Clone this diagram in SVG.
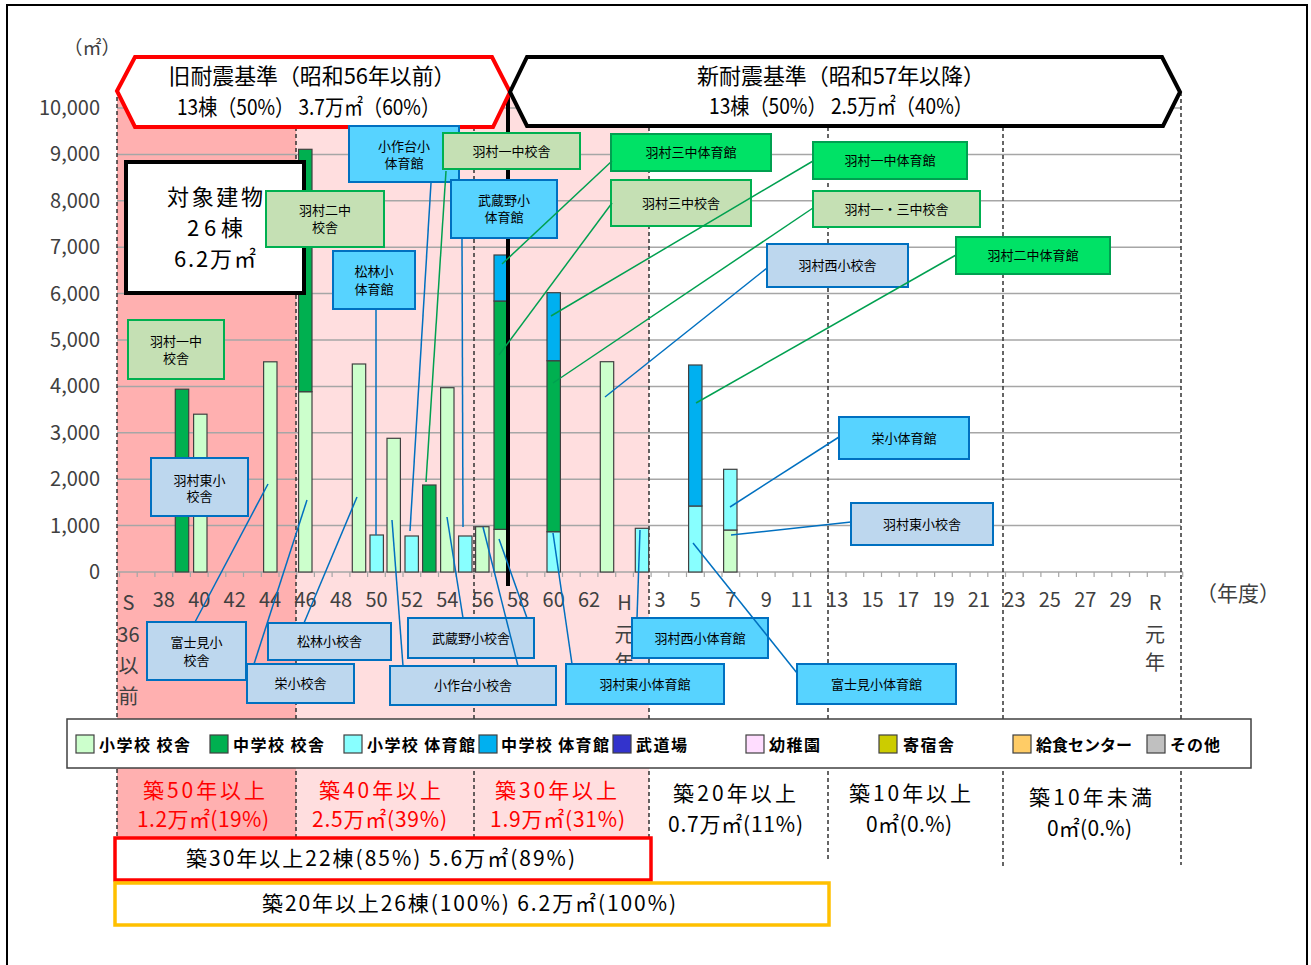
<svg xmlns="http://www.w3.org/2000/svg" width="1311" height="965" viewBox="0 0 1311 965">
<style>
text { font-family: "Noto Sans CJK JP", "Noto Sans", sans-serif; }
.ax { font-size: 20px; fill: #404040; }
.yl { text-anchor: end; }
.xl { text-anchor: middle; }
.grid { stroke: #A6A6A6; stroke-width: 1.5; }
.dash { stroke: #333; stroke-width: 1.5; stroke-dasharray: 4 3; fill: none; }
.bar { stroke: #404040; stroke-width: 1.2; }
.es { fill: #CCFFCC; } .js { fill: #00B050; } .eg { fill: #88FFFF; } .jg { fill: #00B0F0; }
.cb-lg { fill: #C5E0B4; stroke: #00B050; stroke-width: 2; }
.cb-bg { fill: #00E266; stroke: #00A050; stroke-width: 2; }
.cb-lb { fill: #BDD7EE; stroke: #0070C0; stroke-width: 2; }
.cb-cy { fill: #57D3FF; stroke: #0070C0; stroke-width: 2; }
.ct { font-size: 13px; fill: #000; text-anchor: middle; }
.lg { stroke: #00A050; stroke-width: 1.5; }
.lb { stroke: #0070C0; stroke-width: 1.5; }
.hd { font-size: 22px; fill: #000; text-anchor: middle; }
.rb { font-size: 21px; fill: #FF0000; text-anchor: middle; }
.kb { font-size: 21px; fill: #000; text-anchor: middle; }
.lt { font-size: 16px; font-weight: bold; fill: #000; }
.sw { stroke: #404040; stroke-width: 1.2; }
.tg { font-size: 22px; fill: #000; text-anchor: middle; }
</style>
<rect x="0" y="0" width="1311" height="965" fill="#fff"/>
<rect x="7" y="5" width="1300" height="975" fill="#fff" stroke="#000" stroke-width="2"/>

<g id="bands">
<rect x="117" y="97" width="179" height="741" fill="#FFB0B0"/>
<rect x="296" y="97" width="353" height="741" fill="#FFDEDF"/>
</g>

<g id="grid">
<path class="grid" d="M117 525.6H1181M117 479.2H1181M117 432.8H1181M117 386.4H1181M117 340H1181M117 293.6H1181M117 247.2H1181M117 200.8H1181M117 154.4H1181M117 108H1181"/>
<path class="grid" d="M117 572H1183"/>
<path stroke="#A6A6A6" stroke-width="1.2" d="M119.5 572v5M137.2 572v5M154.9 572v5M172.7 572v5M190.4 572v5M208.1 572v5M225.8 572v5M243.5 572v5M261.3 572v5M279 572v5M296.7 572v5M314.4 572v5M332.1 572v5M349.9 572v5M367.6 572v5M385.3 572v5M403 572v5M420.7 572v5M438.5 572v5M456.2 572v5M473.9 572v5M491.6 572v5M509.3 572v5M527.1 572v5M544.8 572v5M562.5 572v5M580.2 572v5M597.9 572v5M615.7 572v5M633.4 572v5M651.1 572v5M668.8 572v5M686.5 572v5M704.3 572v5M722 572v5M739.7 572v5M757.4 572v5M775.1 572v5M792.9 572v5M810.6 572v5M828.3 572v5M846 572v5M863.7 572v5M881.5 572v5M899.2 572v5M916.9 572v5M934.6 572v5M952.3 572v5M970.1 572v5M987.8 572v5M1005.5 572v5M1023.2 572v5M1040.9 572v5M1058.7 572v5M1076.4 572v5M1094.1 572v5M1111.8 572v5M1129.5 572v5M1147.3 572v5M1165 572v5M1182.7 572v5"/>
<path class="dash" d="M117 97V838M296 127V838M474 127V838M649 127V838M828 127V862M1003 127V868M1181 92V865"/>
</g>

<g id="bars">
<rect class="bar js" x="175.3" y="389.2" width="13.4" height="182.8"/>
<rect class="bar es" x="193.6" y="414.2" width="13.4" height="157.8"/>
<rect class="bar es" x="263.6" y="361.8" width="13.4" height="210.2"/>
<rect class="bar es" x="298.6" y="391.7" width="13.4" height="180.3"/>
<rect class="bar js" x="298.6" y="149.3" width="13.4" height="242.4"/>
<rect class="bar es" x="352.3" y="364" width="13.4" height="208"/>
<rect class="bar eg" x="370" y="535" width="13.4" height="37"/>
<rect class="bar es" x="387" y="438.3" width="13.4" height="133.7"/>
<rect class="bar eg" x="405" y="536" width="13.4" height="36"/>
<rect class="bar js" x="422.6" y="485" width="13.4" height="87"/>
<rect class="bar es" x="440.6" y="387.7" width="13.4" height="184.3"/>
<rect class="bar eg" x="458.6" y="536" width="13.4" height="36"/>
<rect class="bar es" x="475.6" y="526.7" width="13.4" height="45.3"/>
<rect class="bar es" x="494" y="529.3" width="13.4" height="42.7"/>
<rect class="bar js" x="494" y="301" width="13.4" height="228.3"/>
<rect class="bar jg" x="494" y="255" width="13.4" height="46"/>
<rect class="bar eg" x="547" y="531.7" width="13.4" height="40.3"/>
<rect class="bar js" x="547" y="360.7" width="13.4" height="171"/>
<rect class="bar jg" x="547" y="292.7" width="13.4" height="68"/>
<rect class="bar es" x="600.3" y="361.7" width="13.4" height="210.3"/>
<rect class="bar eg" x="635.3" y="528.3" width="13.4" height="43.7"/>
<rect class="bar eg" x="688.6" y="506" width="13.4" height="66"/>
<rect class="bar jg" x="688.6" y="365" width="13.4" height="141"/>
<rect class="bar es" x="723.6" y="530" width="13.4" height="42"/>
<rect class="bar eg" x="723.6" y="469.3" width="13.4" height="60.7"/>
</g>

<g id="axis-labels" class="ax">
<text class="yl" x="100" y="115">10,000</text>
<text class="yl" x="100" y="161.4">9,000</text>
<text class="yl" x="100" y="207.8">8,000</text>
<text class="yl" x="100" y="254.2">7,000</text>
<text class="yl" x="100" y="300.6">6,000</text>
<text class="yl" x="100" y="347">5,000</text>
<text class="yl" x="100" y="393.4">4,000</text>
<text class="yl" x="100" y="439.8">3,000</text>
<text class="yl" x="100" y="486.2">2,000</text>
<text class="yl" x="100" y="532.6">1,000</text>
<text class="yl" x="100" y="579">0</text>
<text class="xl" x="92" y="55" font-size="19">（㎡）</text>
<text class="xl" x="128.4" y="610">S</text>
<text class="xl" x="128.4" y="642">36</text>
<text class="xl" x="128.4" y="673">以</text>
<text class="xl" x="128.4" y="704">前</text>
<text class="xl" x="163.8" y="607">38</text>
<text class="xl" x="199.3" y="607">40</text>
<text class="xl" x="234.7" y="607">42</text>
<text class="xl" x="270.1" y="607">44</text>
<text class="xl" x="305.6" y="607">46</text>
<text class="xl" x="341" y="607">48</text>
<text class="xl" x="376.5" y="607">50</text>
<text class="xl" x="411.9" y="607">52</text>
<text class="xl" x="447.3" y="607">54</text>
<text class="xl" x="482.8" y="607">56</text>
<text class="xl" x="518.2" y="607">58</text>
<text class="xl" x="553.7" y="607">60</text>
<text class="xl" x="589.1" y="607">62</text>
<text class="xl" x="624.5" y="610">H</text>
<text class="xl" x="624.5" y="642">元</text>
<text class="xl" x="624.5" y="670">年</text>
<text class="xl" x="660" y="607">3</text>
<text class="xl" x="695.4" y="607">5</text>
<text class="xl" x="730.8" y="607">7</text>
<text class="xl" x="766.3" y="607">9</text>
<text class="xl" x="801.7" y="607">11</text>
<text class="xl" x="837.2" y="607">13</text>
<text class="xl" x="872.6" y="607">15</text>
<text class="xl" x="908" y="607">17</text>
<text class="xl" x="943.5" y="607">19</text>
<text class="xl" x="978.9" y="607">21</text>
<text class="xl" x="1014.4" y="607">23</text>
<text class="xl" x="1049.8" y="607">25</text>
<text class="xl" x="1085.3" y="607">27</text>
<text class="xl" x="1120.7" y="607">29</text>
<text class="xl" x="1155" y="610">R</text>
<text class="xl" x="1155" y="642">元</text>
<text class="xl" x="1155" y="670">年</text>
<text class="xl" x="1238" y="601" font-size="21">（年度）</text>
</g>

<path d="M508 92V586" stroke="#000" stroke-width="4"/>

<g id="old-standard">
<polygon points="117,91 135,57 492,57 510,92 493,127 135,127" fill="#fff" stroke="#FF0000" stroke-width="4" stroke-linejoin="miter"/>
<text class="hd" x="312" y="84" textLength="287" lengthAdjust="spacingAndGlyphs">旧耐震基準（昭和56年以前）</text>
<text class="hd" x="308.5" y="115" textLength="263" lengthAdjust="spacingAndGlyphs">13棟（50%） 3.7万㎡（60%）</text>
</g>
<g id="new-standard">
<polygon points="510,92 527,57 1162,57 1180,92 1163,126 527,126" fill="#fff" stroke="#000" stroke-width="4"/>
<text class="hd" x="841" y="84" textLength="288" lengthAdjust="spacingAndGlyphs">新耐震基準（昭和57年以降）</text>
<text class="hd" x="841" y="114" textLength="264" lengthAdjust="spacingAndGlyphs">13棟（50%） 2.5万㎡（40%）</text>
</g>

<g id="target">
<rect x="126" y="162" width="178" height="131" fill="#fff" stroke="#000" stroke-width="4"/>
<text class="tg" x="215" y="205" textLength="96">対象建物</text>
<text class="tg" x="215" y="236" textLength="56">26棟</text>
<text class="tg" x="215" y="267" textLength="82">6.2万㎡</text>
</g>

<g id="c-hamura1-school-a"><rect class="cb-lg" x="128" y="320" width="96" height="59"/><text class="ct" x="176" y="346">羽村一中</text><text class="ct" x="176" y="363">校舎</text></g>
<g id="c-hamura2-school"><rect class="cb-lg" x="266" y="191" width="118" height="56"/><text class="ct" x="325" y="215">羽村二中</text><text class="ct" x="325" y="232">校舎</text></g>
<g id="c-ozakudai-gym"><rect class="cb-cy" x="349" y="126" width="110" height="56"/><text class="ct" x="404" y="151">小作台小</text><text class="ct" x="404" y="168">体育館</text></g>
<g id="c-shorin-gym"><rect class="cb-cy" x="333" y="251" width="82" height="58"/><text class="ct" x="374" y="276">松林小</text><text class="ct" x="374" y="294">体育館</text></g>
<g id="c-hamura1-school-b"><rect class="cb-lg" x="443" y="133" width="137" height="36"/><text class="ct" x="511.5" y="156">羽村一中校舎</text></g>
<g id="c-musashino-gym"><rect class="cb-cy" x="451" y="180" width="106" height="58"/><text class="ct" x="504" y="204.5">武蔵野小</text><text class="ct" x="504" y="222">体育館</text></g>
<g id="c-hamura3-gym"><rect class="cb-bg" x="611" y="134" width="160" height="37"/><text class="ct" x="691" y="157">羽村三中体育館</text></g>
<g id="c-hamura3-school"><rect class="cb-lg" x="611" y="180" width="140" height="46"/><text class="ct" x="681" y="207.5">羽村三中校舎</text></g>
<g id="c-hamura1-gym"><rect class="cb-bg" x="813" y="142" width="154" height="37"/><text class="ct" x="890" y="165">羽村一中体育館</text></g>
<g id="c-hamura13-school"><rect class="cb-lg" x="813" y="191" width="167" height="36"/><text class="ct" x="896.5" y="213.5">羽村一・三中校舎</text></g>
<g id="c-hamuranishi-school"><rect class="cb-lb" x="767" y="244" width="141" height="43"/><text class="ct" x="837.5" y="270">羽村西小校舎</text></g>
<g id="c-hamura2-gym"><rect class="cb-bg" x="956" y="237" width="154" height="37"/><text class="ct" x="1033" y="260">羽村二中体育館</text></g>
<g id="c-sakae-gym"><rect class="cb-cy" x="839" y="417" width="130" height="42"/><text class="ct" x="904" y="442.5">栄小体育館</text></g>
<g id="c-hamurahigashi-school-b"><rect class="cb-lb" x="851" y="503" width="142" height="42"/><text class="ct" x="922" y="528.5">羽村東小校舎</text></g>
<g id="c-hamurahigashi-school-a"><rect class="cb-lb" x="151" y="458" width="97" height="58"/><text class="ct" x="199.5" y="484.5">羽村東小</text><text class="ct" x="199.5" y="501">校舎</text></g>
<g id="c-fujimi-school"><rect class="cb-lb" x="147" y="622" width="99" height="58"/><text class="ct" x="196.5" y="647">富士見小</text><text class="ct" x="196.5" y="665">校舎</text></g>
<g id="c-sakae-school"><rect class="cb-lb" x="247" y="664" width="107" height="39"/><text class="ct" x="300.5" y="688">栄小校舎</text></g>
<g id="c-shorin-school"><rect class="cb-lb" x="268" y="623" width="123" height="37"/><text class="ct" x="329.5" y="646">松林小校舎</text></g>
<g id="c-musashino-school"><rect class="cb-lb" x="408" y="618" width="126" height="40"/><text class="ct" x="471" y="642.5">武蔵野小校舎</text></g>
<g id="c-ozakudai-school"><rect class="cb-lb" x="390" y="666" width="166" height="39"/><text class="ct" x="473" y="690">小作台小校舎</text></g>
<g id="c-hamurahigashi-gym"><rect class="cb-cy" x="566" y="664" width="158" height="40"/><text class="ct" x="645" y="688.5">羽村東小体育館</text></g>
<g id="c-hamuranishi-gym"><rect class="cb-cy" x="632" y="618" width="136" height="40"/><text class="ct" x="700" y="642.5">羽村西小体育館</text></g>
<g id="c-fujimi-gym"><rect class="cb-cy" x="797" y="664" width="159" height="40"/><text class="ct" x="876.5" y="688.5">富士見小体育館</text></g>

<g id="connectors" fill="none">
<path class="lg" d="M446 171L426 482"/>
<path class="lg" d="M612 161L502 264"/>
<path class="lg" d="M612 203L499 355"/>
<path class="lg" d="M813 161L551 316"/>
<path class="lg" d="M813 208L553 383"/>
<path class="lg" d="M956 255L696 403"/>
<path class="lb" d="M431 183L410 531"/>
<path class="lb" d="M376 310L376 535"/>
<path class="lb" d="M462 239L463 527"/>
<path class="lb" d="M767 268L605 397"/>
<path class="lb" d="M839 437L730 507"/>
<path class="lb" d="M851 522L731 535"/>
<path class="lb" d="M195 622L268 484"/>
<path class="lb" d="M254 664L307 500"/>
<path class="lb" d="M304 623L357 497"/>
<path class="lb" d="M463 618L447 517"/>
<path class="lb" d="M527 618L499 539"/>
<path class="lb" d="M403 666L392 520"/>
<path class="lb" d="M518 666L483 527"/>
<path class="lb" d="M572 664L553 533"/>
<path class="lb" d="M637 618L640 530"/>
<path class="lb" d="M797 673L693 543"/>
</g>

<g id="legend">
<rect x="67" y="719" width="1184" height="49" fill="#fff" stroke="#404040" stroke-width="1.5"/>
<rect class="sw es" x="76" y="735" width="18" height="18"/><text class="lt" x="99" y="751" textLength="91">小学校 校舎</text>
<rect class="sw js" x="210" y="735" width="18" height="18"/><text class="lt" x="233" y="751" textLength="91">中学校 校舎</text>
<rect class="sw eg" x="344" y="735" width="18" height="18"/><text class="lt" x="367" y="751" textLength="108">小学校 体育館</text>
<rect class="sw jg" x="479" y="735" width="18" height="18"/><text class="lt" x="501" y="751" textLength="108">中学校 体育館</text>
<rect class="sw" fill="#3333CC" x="613" y="735" width="18" height="18"/><text class="lt" x="636" y="751" textLength="51">武道場</text>
<rect class="sw" fill="#FFDDFF" x="746" y="735" width="18" height="18"/><text class="lt" x="769" y="751" textLength="51">幼稚園</text>
<rect class="sw" fill="#CCCC00" x="879" y="735" width="18" height="18"/><text class="lt" x="903" y="751" textLength="51">寄宿舎</text>
<rect class="sw" fill="#FFCC66" x="1013" y="735" width="18" height="18"/><text class="lt" x="1036" y="751" textLength="96">給食センター</text>
<rect class="sw" fill="#C0C0C0" x="1147" y="735" width="18" height="18"/><text class="lt" x="1170" y="751" textLength="50">その他</text>
</g>

<g id="age-bands">
<text class="rb" x="204" y="798" textLength="122">築50年以上</text><text class="rb" x="203" y="827" textLength="132">1.2万㎡(19%)</text>
<text class="rb" x="380" y="798" textLength="122">築40年以上</text><text class="rb" x="379.5" y="827" textLength="135">2.5万㎡(39%)</text>
<text class="rb" x="556" y="798" textLength="122">築30年以上</text><text class="rb" x="557.5" y="827" textLength="135">1.9万㎡(31%)</text>
<text class="kb" x="734.5" y="801" textLength="123">築20年以上</text><text class="kb" x="735.5" y="832" textLength="135">0.7万㎡(11%)</text>
<text class="kb" x="910" y="801" textLength="122">築10年以上</text><text class="kb" x="909" y="832" textLength="86">0㎡(0.%)</text>
<text class="kb" x="1090.5" y="805" textLength="123">築10年未満</text><text class="kb" x="1089.5" y="836" textLength="85">0㎡(0.%)</text>
</g>

<g id="total-30">
<rect x="115" y="838" width="536" height="42" fill="#fff" stroke="#FF0000" stroke-width="3.5"/>
<text x="380.5" y="866" font-size="21" text-anchor="middle" textLength="389">築30年以上22棟(85%)  5.6万㎡(89%)</text>
</g>
<g id="total-20">
<rect x="115" y="883" width="714" height="42" fill="#fff" stroke="#FFC000" stroke-width="3.5"/>
<text x="469" y="911" font-size="21" text-anchor="middle" textLength="414">築20年以上26棟(100%)  6.2万㎡(100%)</text>
</g>
</svg>
